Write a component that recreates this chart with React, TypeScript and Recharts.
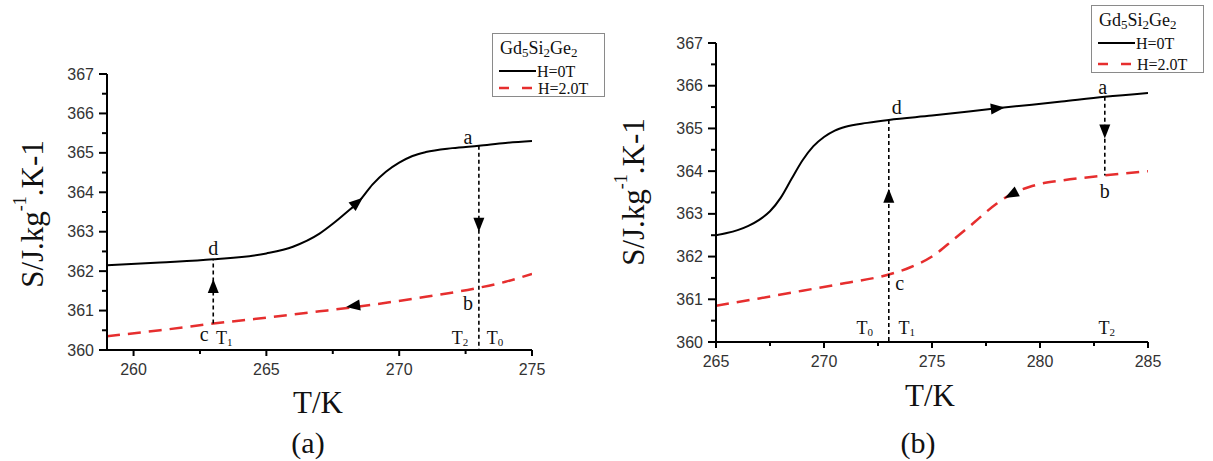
import React from 'react';
import { LineChart, Line, XAxis, YAxis, ReferenceLine, ReferenceDot } from 'recharts';

const RED = '#e62e2e';
const SERIF = '"Liberation Serif", "Times New Roman", serif';
const SANS = '"Liberation Sans", Arial, sans-serif';

// shared y axis
const sMajor = [360, 361, 362, 363, 364, 365, 366, 367];
const sMinor = [360.5, 361.5, 362.5, 363.5, 364.5, 365.5, 366.5];

// panel (a)
const aZeroT = [259, 261, 263, 265, 266, 267, 267.5, 268, 268.5, 269, 269.5, 270, 270.5, 271, 272, 273, 274, 275];
const aZeroS = [362.15, 362.22, 362.3, 362.45, 362.62, 362.95, 363.2, 363.48, 363.78, 364.2, 364.52, 364.75, 364.92, 365.02, 365.12, 365.18, 365.25, 365.3];
const aTwoT = [259, 261, 263, 265, 267, 269, 271, 273, 274, 275];
const aTwoS = [360.35, 360.5, 360.67, 360.82, 360.98, 361.15, 361.35, 361.58, 361.73, 361.93];
const aMajor = [260, 265, 270, 275];
const aMinor = [262.5, 267.5, 272.5];
const aNames = ['a', 'b', 'c', 'd'];
const aNameT = [273, 273, 263, 263];
const aNameS = [365.18, 361.58, 360.67, 362.3];
const aTempNames = ['1', '2', '0'];
const aTempT = [263, 273, 273];
const aArrowT = [268.4, 268.3, 263, 273];
const aArrowS = [363.73, 361.12, 361.6, 363.2];

// panel (b)
const bZeroT = [265, 265.5, 266, 266.5, 267, 267.5, 268, 268.5, 269, 269.5, 270, 270.5, 271, 272, 273, 275, 278, 281, 283, 285];
const bZeroS = [362.5, 362.55, 362.62, 362.72, 362.86, 363.06, 363.38, 363.82, 364.25, 364.58, 364.8, 364.95, 365.04, 365.13, 365.2, 365.3, 365.47, 365.63, 365.74, 365.83];
const bTwoT = [265, 267, 269, 271, 273, 274, 275, 276, 277, 277.5, 278, 278.5, 279, 279.5, 280, 281, 283, 285];
const bTwoS = [360.85, 361.02, 361.2, 361.38, 361.58, 361.75, 362.0, 362.4, 362.82, 363.04, 363.24, 363.41, 363.54, 363.63, 363.7, 363.78, 363.9, 364.0];
const bMajor = [265, 270, 275, 280, 285];
const bMinor = [267.5, 272.5, 277.5, 282.5];
const bNames = ['a', 'b', 'c', 'd'];
const bNameT = [283, 283, 273, 273];
const bNameS = [365.74, 363.9, 361.58, 365.2];
const bTempNames = ['0', '1', '2'];
const bTempT = [273, 273, 283];
const bArrowT = [278, 278.7, 273, 283];
const bArrowS = [365.47, 363.46, 363.4, 364.95];

const legendTitle = ['Gd', '5', 'Si', '2', 'Ge', '2'];
const legendNames = ['H=0T', 'H=2.0T'];

const rows = (t: number[], s: number[]) => t.map((v, i) => ({ t: v, s: s[i] }));

const XTick = ({ x, y, payload, major }: any) => {
  const isMajor = major.includes(payload.value);
  return (
    <g>
      <line x1={x} x2={x} y1={y} y2={y + (isMajor ? 6 : 4)} stroke="#000" strokeWidth={2} />
      {isMajor && (
        <text x={x} y={y + 19} textAnchor="middle" dominantBaseline="central" fontFamily={SANS} fontSize={16} fill="#333">
          {payload.value}
        </text>
      )}
    </g>
  );
};

const YTick = ({ x, y, payload }: any) => {
  const isMajor = sMajor.includes(payload.value);
  return (
    <g>
      <line x1={x} x2={x - (isMajor ? 8 : 5)} y1={y} y2={y} stroke="#000" strokeWidth={2} />
      {isMajor && (
        <text x={x - 13} y={y} textAnchor="end" dominantBaseline="central" fontFamily={SANS} fontSize={16} fill="#333">
          {payload.value}
        </text>
      )}
    </g>
  );
};

const Arrow = ({ cx, cy, angle }: any) => (
  <polygon
    points="8,0 -6,-5.5 -6,5.5"
    fill="#000"
    transform={`translate(${cx},${cy}) rotate(${angle})`}
  />
);

const Letter = ({ cx, cy, dx, dy, text }: any) => (
  <text x={cx + dx} y={cy + dy} textAnchor="middle" dominantBaseline="central" fontFamily={SERIF} fontSize={20} fill="#111">
    {text}
  </text>
);

const TempLabel = ({ cx, cy, dx, dy, sub }: any) => (
  <text x={cx + dx} y={cy + dy} textAnchor="middle" dominantBaseline="central" fontFamily={SERIF} fontSize={18} fill="#111">
    T<tspan fontSize={11} dy={4}>{sub}</tspan>
  </text>
);

const LegendBox = ({ x, y, height }: { x: number; y: number; height: number }) => (
  <g transform={`translate(${x},${y})`}>
    <rect x={0.5} y={0.5} width={112} height={height - 1} fill="#fff" stroke="#8a8a8a" />
    <text x={8} y={15} dominantBaseline="central" fontFamily={SERIF} fontSize={18} fill="#111">
      {legendTitle.map((part, i) =>
        i % 2 === 0 ? (
          <tspan key={i} fontSize={18} dy={i === 0 ? 0 : -4}>{part}</tspan>
        ) : (
          <tspan key={i} fontSize={13} dy={4}>{part}</tspan>
        )
      )}
    </text>
    <line x1={7} x2={44} y1={38} y2={38} stroke="#000" strokeWidth={2} />
    <text x={45} y={38} dominantBaseline="central" fontFamily={SERIF} fontSize={16} fill="#111">{legendNames[0]}</text>
    <line x1={7} x2={41} y1={height - 9} y2={height - 9} stroke={RED} strokeWidth={2.5} strokeDasharray="10 13" />
    <text x={46} y={height - 9} dominantBaseline="central" fontFamily={SERIF} fontSize={16} fill="#111">{legendNames[1]}</text>
  </g>
);

interface PanelProps {
  zero: { t: number; s: number }[];
  two: { t: number; s: number }[];
  domain: [number, number];
  major: number[];
  minor: number[];
  margin: { top: number; right: number; bottom: number; left: number };
  yWidth: number;
  children?: React.ReactNode;
}

function Panel({ zero, two, domain, major, minor, margin, yWidth, children }: PanelProps) {
  const xTicks = [...major, ...minor].sort((p, q) => p - q);
  return (
    <LineChart width={613} height={461} margin={margin}>
      <XAxis
        type="number"
        dataKey="t"
        domain={domain}
        ticks={xTicks}
        allowDataOverflow
        height={30}
        tickSize={0}
        tickMargin={0}
        tickLine={false}
        axisLine={{ stroke: '#000', strokeWidth: 2 }}
        tick={<XTick major={major} />}
        interval={0}
      />
      <YAxis
        type="number"
        dataKey="s"
        domain={[360, 367]}
        ticks={[...sMajor, ...sMinor].sort((p, q) => p - q)}
        allowDataOverflow
        width={yWidth}
        tickSize={0}
        tickMargin={0}
        tickLine={false}
        axisLine={{ stroke: '#000', strokeWidth: 2 }}
        tick={<YTick />}
        interval={0}
      />
      <Line data={zero} dataKey="s" type="monotone" stroke="#000" strokeWidth={2} dot={false} activeDot={false} isAnimationActive={false} name="H=0T" />
      <Line data={two} dataKey="s" type="monotone" stroke={RED} strokeWidth={2.5} strokeDasharray="13 8" dot={false} activeDot={false} isAnimationActive={false} name="H=2.0T" />
      {children}
    </LineChart>
  );
}

const vline = (t: number, s1: number, s2: number) => (
  <ReferenceLine
    key={`v${t}-${s1}`}
    segment={[{ x: t, y: s1 }, { x: t, y: s2 }]}
    stroke="#000"
    strokeWidth={1.6}
    strokeDasharray="4 3"
  />
);

const arrow = (t: number, s: number, angle: number) => (
  <ReferenceDot key={`ar${t}-${s}`} x={t} y={s} r={1} shape={(p: any) => <Arrow cx={p.cx} cy={p.cy} angle={angle} />} />
);

const letter = (name: string, t: number, s: number, dx: number, dy: number) => (
  <ReferenceDot key={`l${name}`} x={t} y={s} r={1} shape={(p: any) => <Letter cx={p.cx} cy={p.cy} dx={dx} dy={dy} text={name} />} />
);

const temp = (sub: string, t: number, dx: number, dy: number) => (
  <ReferenceDot key={`T${sub}`} x={t} y={360} r={1} shape={(p: any) => <TempLabel cx={p.cx} cy={p.cy} dx={dx} dy={dy} sub={sub} />} />
);

const YTitle = ({ x, y }: { x: number; y: number }) => (
  <text transform={`translate(${x},${y}) rotate(-90)`} textAnchor="middle" dominantBaseline="central" fontFamily={SERIF} fontSize={31} fill="#111">
    S/J.kg<tspan fontSize={18} dy={-12}>-1</tspan><tspan dy={12}>.K-1</tspan>
  </text>
);

export default function App() {
  const aLetterOff = [[-11, -9], [-11, 15], [-9, 10], [0, -11]];
  const aTempOff = [[11, -12], [-19, -12], [16, -12]];
  const aArrowAngle = [-40, 172, -90, 90];
  const bLetterOff = [[-2, -10], [0, 16], [11, 8], [8, -13]];
  const bTempOff = [[-24, -14], [18, -14], [2, -14]];
  const bArrowAngle = [-6, 152, -90, 90];

  return (
    <div style={{ position: 'absolute', left: 0, top: 0, width: 1213, height: 461, background: '#fff', overflow: 'hidden' }}>
      <div style={{ position: 'absolute', left: 0, top: 0 }}>
        <Panel
          zero={rows(aZeroT, aZeroS)}
          two={rows(aTwoT, aTwoS)}
          domain={[259, 275]}
          major={aMajor}
          minor={aMinor}
          margin={{ top: 74, right: 81, bottom: 81, left: 40 }}
          yWidth={67}
        >
          {vline(263, aNameS[2], aNameS[3])}
          {vline(273, aNameS[0], 360)}
          {aArrowT.map((t, i) => arrow(t, aArrowS[i], aArrowAngle[i]))}
          {aNames.map((n, i) => letter(n, aNameT[i], aNameS[i], aLetterOff[i][0], aLetterOff[i][1]))}
          {aTempNames.map((n, i) => temp(n, aTempT[i], aTempOff[i][0], aTempOff[i][1]))}
        </Panel>
      </div>
      <div style={{ position: 'absolute', left: 600, top: 0 }}>
        <Panel
          zero={rows(bZeroT, bZeroS)}
          two={rows(bTwoT, bTwoS)}
          domain={[265, 285]}
          major={bMajor}
          minor={bMinor}
          margin={{ top: 43, right: 65, bottom: 89, left: 50 }}
          yWidth={66}
        >
          {vline(273, bNameS[3], 360)}
          {vline(283, bNameS[0], bNameS[1])}
          {bArrowT.map((t, i) => arrow(t, bArrowS[i], bArrowAngle[i]))}
          {bNames.map((n, i) => letter(n, bNameT[i], bNameS[i], bLetterOff[i][0], bLetterOff[i][1]))}
          {bTempNames.map((n, i) => temp(n, bTempT[i], bTempOff[i][0], bTempOff[i][1]))}
        </Panel>
      </div>
      <svg width={1213} height={461} style={{ position: 'absolute', left: 0, top: 0, pointerEvents: 'none' }}>
        <LegendBox x={492} y={33} height={64} />
        <LegendBox x={1091} y={5} height={68} />
        <YTitle x={32} y={214} />
        <YTitle x={633} y={192} />
        <text x={318} y={402} textAnchor="middle" dominantBaseline="central" fontFamily={SERIF} fontSize={31} fill="#111">T/K</text>
        <text x={930} y={395} textAnchor="middle" dominantBaseline="central" fontFamily={SERIF} fontSize={31} fill="#111">T/K</text>
        <text x={308} y={442} textAnchor="middle" dominantBaseline="central" fontFamily={SERIF} fontSize={30} fill="#111">(a)</text>
        <text x={918} y={442} textAnchor="middle" dominantBaseline="central" fontFamily={SERIF} fontSize={30} fill="#111">(b)</text>
      </svg>
    </div>
  );
}
